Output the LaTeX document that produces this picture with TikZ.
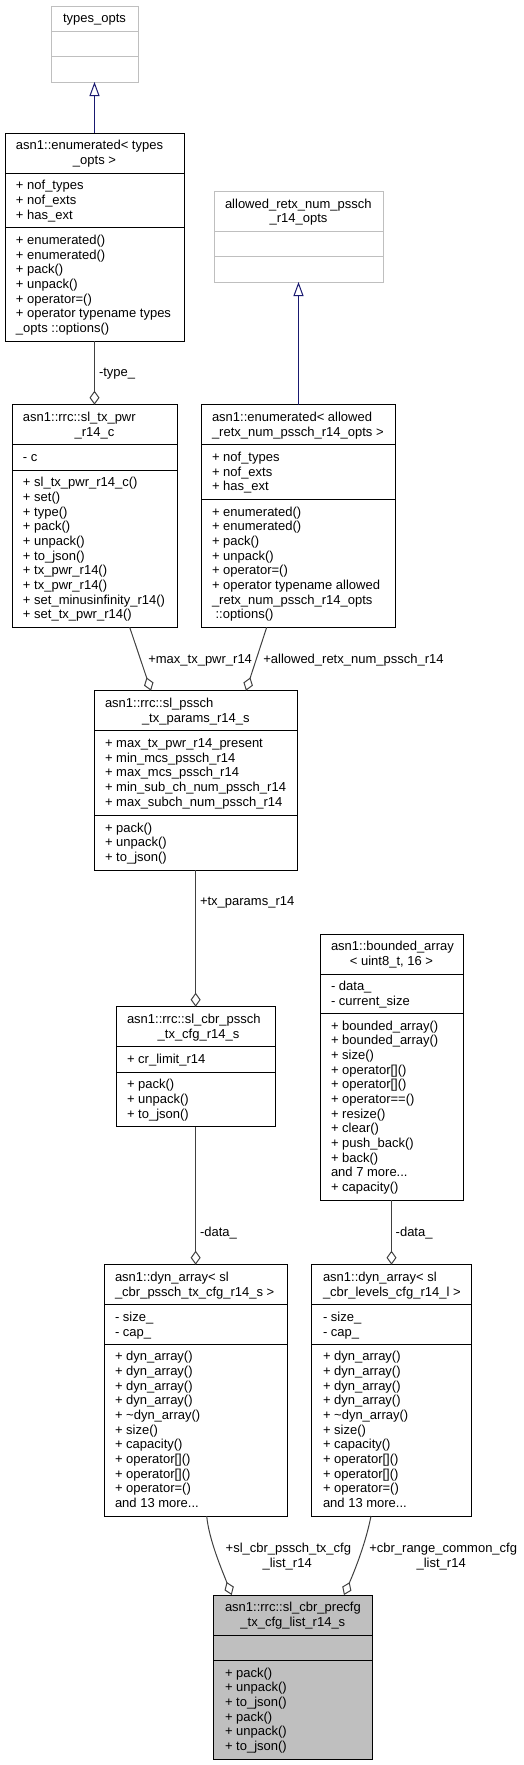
\documentclass[tikz,border=0pt]{standalone}
\usepackage{fontspec}
\setmainfont{Liberation Sans}
\usetikzlibrary{arrows.meta}
\definecolor{edgegray}{HTML}{404040}
\definecolor{inhblue}{HTML}{191970}
\definecolor{lightbox}{HTML}{BFBFBF}
\newcommand{\threedots}{...}
\newcommand{\seclines}[4]{%
  \foreach \lineText [count=\lineNo] in {#4} {%
    \node[txt, anchor=base west] (#1-\lineNo) at (#2, {#3+(\lineNo-1)*14.667}) {\lineText};
  }%
}
\newcommand{\ctrline}[4]{\node[txt, anchor=base] (#1) at (#2,#3) {#4};}
\newcommand{\hdiv}[3][divider]{\draw[#1] (#2.west |- 0,#3) -- (#2.east |- 0,#3);}
\begin{document}
\begin{tikzpicture}[x=1pt,y=-1pt,
  txt/.style={inner sep=0pt, outer sep=0pt, font=\fontsize{13}{14.667}\selectfont, text=black},
  clsbox/.style={draw=black, line width=1pt, fill=white, rectangle, inner sep=0pt, outer sep=0pt, anchor=north west},
  greybox/.style={clsbox, draw=lightbox},
  divider/.style={draw=black, line width=1pt},
  greydivider/.style={draw=lightbox, line width=1pt},
  agg/.style={draw=edgegray, line width=1pt, -{Diamond[open, length=14pt, width=10pt]}},
  inh/.style={draw=inhblue, line width=1pt, -{Triangle[open, length=14pt, width=10pt]}},
]
\useasboundingbox (0,0) rectangle (523,1765);

% types_opts
\node[greybox, minimum width=87pt, minimum height=76pt] (typesopts) at (51,6) {};
\hdiv[greydivider]{typesopts}{31.33}
\hdiv[greydivider]{typesopts}{56.67}
\ctrline{typesopts-t1}{94.5}{22.8}{types\_opts}

% enumerated< types_opts >
\node[clsbox, minimum width=179pt, minimum height=208pt] (enumtypes) at (5,133) {};
\hdiv{enumtypes}{173}
\hdiv{enumtypes}{227.7}
\node[txt, anchor=base west] (enumtypes-t1) at (16,149.8) {asn1::enumerated< types};
\ctrline{enumtypes-t2}{94.5}{164.5}{\_opts >}
\seclines{enumtypes-a}{16}{189.8}{+ nof\_types,+ nof\_exts,+ has\_ext}
\seclines{enumtypes-m}{16}{244.5}{+ enumerated(),+ enumerated(),+ pack(),+ unpack(),+ operator=(),+ operator typename types,\_opts ::options()}

% allowed_retx_num_pssch_r14_opts
\node[greybox, minimum width=169pt, minimum height=90.7pt] (allowedopts) at (214,191.3) {};
\hdiv[greydivider]{allowedopts}{231.3}
\hdiv[greydivider]{allowedopts}{256.7}
\node[txt, anchor=base west] (allowedopts-t1) at (225,208.1) {allowed\_retx\_num\_pssch};
\ctrline{allowedopts-t2}{298.5}{222.8}{\_r14\_opts}

% sl_tx_pwr_r14_c
\node[clsbox, minimum width=165pt, minimum height=222.6pt] (txpwr) at (12,404.7) {};
\hdiv{txpwr}{444.7}
\hdiv{txpwr}{470}
\node[txt, anchor=base west] (txpwr-t1) at (23,421.5) {asn1::rrc::sl\_tx\_pwr};
\ctrline{txpwr-t2}{94.5}{436.2}{\_r14\_c}
\seclines{txpwr-a}{23}{486.8}{+ sl\_tx\_pwr\_r14\_c(),+ set(),+ type(),+ pack(),+ unpack(),+ to\_json(),+ tx\_pwr\_r14(),+ tx\_pwr\_r14(),+ set\_minusinfinity\_r14(),+ set\_tx\_pwr\_r14()}
\node[txt, anchor=base west] (txpwr-c) at (23,461.5) {- c};

% enumerated< allowed_retx_num_pssch_r14_opts >
\node[clsbox, minimum width=194.7pt, minimum height=222.6pt] (enumallowed) at (201,404.7) {};
\hdiv{enumallowed}{444.7}
\hdiv{enumallowed}{499.3}
\seclines{enumallowed-t}{212}{421.5}{asn1::enumerated< allowed,\_retx\_num\_pssch\_r14\_opts >}
\seclines{enumallowed-a}{212}{461.5}{+ nof\_types,+ nof\_exts,+ has\_ext}
\seclines{enumallowed-m}{212}{516.1}{+ enumerated(),+ enumerated(),+ pack(),+ unpack(),+ operator=(),+ operator typename allowed,\_retx\_num\_pssch\_r14\_opts,\ ::options()}

% sl_pssch_tx_params_r14_s
\node[clsbox, minimum width=202.3pt, minimum height=179.3pt] (pssch) at (94.7,690.7) {};
\hdiv{pssch}{730.7}
\hdiv{pssch}{815.3}
\node[txt, anchor=base west] (pssch-t1) at (105,707.5) {asn1::rrc::sl\_pssch};
\ctrline{pssch-t2}{195.85}{722.2}{\_tx\_params\_r14\_s}
\seclines{pssch-a}{105}{747.5}{+ max\_tx\_pwr\_r14\_present,+ min\_mcs\_pssch\_r14,+ max\_mcs\_pssch\_r14,+ min\_sub\_ch\_num\_pssch\_r14,+ max\_subch\_num\_pssch\_r14}
\seclines{pssch-m}{105}{832.1}{+ pack(),+ unpack(),+ to\_json()}

% bounded_array< uint8_t, 16 >
\node[clsbox, minimum width=143pt, minimum height=266pt] (bounded) at (320,934) {};
\hdiv{bounded}{974}
\hdiv{bounded}{1013.3}
\node[txt, anchor=base west] (bounded-t1) at (331,950.8) {asn1::bounded\_array};
\ctrline{bounded-t2}{391.5}{965.5}{< uint8\_t, 16 >}
\seclines{bounded-a}{331}{990.8}{- data\_,- current\_size}
\seclines{bounded-m}{331}{1030.1}{+ bounded\_array(),+ bounded\_array(),+ size(),+ operator[](),+ operator[](),+ operator==(),+ resize(),+ clear(),+ push\_back(),+ back(),and 7 more\threedots,+ capacity()}

% sl_cbr_pssch_tx_cfg_r14_s
\node[clsbox, minimum width=158.7pt, minimum height=120pt] (cbrpssch) at (116.3,1006.7) {};
\hdiv{cbrpssch}{1046.7}
\hdiv{cbrpssch}{1072}
\node[txt, anchor=base west] (cbrpssch-t1) at (127,1023.5) {asn1::rrc::sl\_cbr\_pssch};
\ctrline{cbrpssch-t2}{198.5}{1038.2}{\_tx\_cfg\_r14\_s}
\node[txt, anchor=base west] (cbrpssch-a) at (127,1063.5) {+ cr\_limit\_r14};
\seclines{cbrpssch-m}{127}{1088.8}{+ pack(),+ unpack(),+ to\_json()}

% dyn_array< sl_cbr_pssch_tx_cfg_r14_s >
\node[clsbox, minimum width=182.3pt, minimum height=251.3pt] (dynpssch) at (104.7,1264.7) {};
\hdiv{dynpssch}{1304.7}
\hdiv{dynpssch}{1344}
\seclines{dynpssch-t}{115}{1281.5}{asn1::dyn\_array< sl,\_cbr\_pssch\_tx\_cfg\_r14\_s >}
\seclines{dynpssch-a}{115}{1321.5}{- size\_,- cap\_}
\seclines{dynpssch-m}{115}{1360.8}{+ dyn\_array(),+ dyn\_array(),+ dyn\_array(),+ dyn\_array(),+ \textasciitilde dyn\_array(),+ size(),+ capacity(),+ operator[](),+ operator[](),+ operator=(),and 13 more\threedots}

% dyn_array< sl_cbr_levels_cfg_r14_l >
\node[clsbox, minimum width=160pt, minimum height=251.3pt] (dynlevels) at (311.7,1264.7) {};
\hdiv{dynlevels}{1304.7}
\hdiv{dynlevels}{1344}
\seclines{dynlevels-t}{323}{1281.5}{asn1::dyn\_array< sl,\_cbr\_levels\_cfg\_r14\_l >}
\seclines{dynlevels-a}{323}{1321.5}{- size\_,- cap\_}
\seclines{dynlevels-m}{323}{1360.8}{+ dyn\_array(),+ dyn\_array(),+ dyn\_array(),+ dyn\_array(),+ \textasciitilde dyn\_array(),+ size(),+ capacity(),+ operator[](),+ operator[](),+ operator=(),and 13 more\threedots}

% sl_cbr_precfg_tx_cfg_list_r14_s
\node[clsbox, fill=lightbox, minimum width=158.3pt, minimum height=164pt] (precfg) at (213.7,1595) {};
\hdiv{precfg}{1635}
\hdiv{precfg}{1660.3}
\node[txt, anchor=base west] (precfg-t1) at (225,1611.8) {asn1::rrc::sl\_cbr\_precfg};
\ctrline{precfg-t2}{292.85}{1626.5}{\_tx\_cfg\_list\_r14\_s}
\seclines{precfg-m}{225}{1677.1}{+ pack(),+ unpack(),+ to\_json(),+ pack(),+ unpack(),+ to\_json()}

% inheritance
\draw[inh] (enumtypes.north) -- (typesopts.south);
\draw[inh] (allowedopts.south |- enumallowed.north) -- (allowedopts.south);

% aggregation
\draw[agg] (enumtypes.south) -- (txpwr.north);
\draw[agg] ([xshift=117.7pt]txpwr.south west) -- ([xshift=56.3pt]pssch.north west);
\draw[agg] ([xshift=65.7pt]enumallowed.south west) -- ([xshift=151.3pt]pssch.north west);
\draw[agg] (cbrpssch.north |- pssch.south) -- (cbrpssch.north);
\draw[agg] (cbrpssch.south) -- (cbrpssch.south |- dynpssch.north);
\draw[agg] (bounded.south) -- (bounded.south |- dynlevels.north);
\draw[agg] ([xshift=102pt]dynpssch.south west) .. controls (209,1540) and (222,1570) .. ([xshift=18pt]precfg.north west);
\draw[agg] ([xshift=59.3pt]dynlevels.south west) .. controls (366,1542) and (355,1570) .. ([xshift=130.3pt]precfg.north west);

% edge labels
\node[txt, anchor=base west] (lbl-type) at (99,376.5) {-type\_};
\node[txt, anchor=base west] (lbl-maxtx) at (148.3,663) {+max\_tx\_pwr\_r14};
\node[txt, anchor=base west] (lbl-allowed) at (263.3,663) {+allowed\_retx\_num\_pssch\_r14};
\node[txt, anchor=base west] (lbl-txparams) at (200,905.3) {+tx\_params\_r14};
\node[txt, anchor=base west] (lbl-data1) at (200,1236.3) {-data\_};
\node[txt, anchor=base west] (lbl-data2) at (395.7,1236.3) {-data\_};
\node[txt, anchor=base west] (lbl-cbr1a) at (225.7,1552.3) {+sl\_cbr\_pssch\_tx\_cfg};
\ctrline{lbl-cbr1b}{287.2}{1567}{\_list\_r14}
\node[txt, anchor=base west] (lbl-cbr2a) at (369.3,1552.3) {+cbr\_range\_common\_cfg};
\ctrline{lbl-cbr2b}{441.2}{1567}{\_list\_r14}
\end{tikzpicture}
\end{document}
